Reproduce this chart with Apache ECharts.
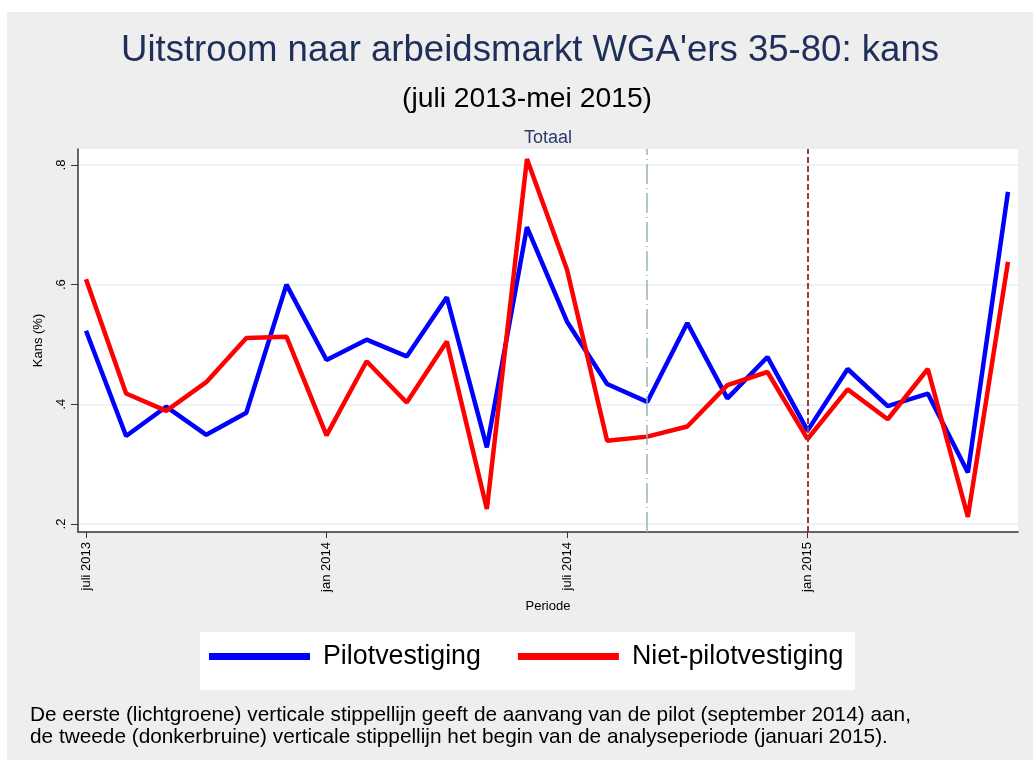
<!DOCTYPE html>
<html>
<head>
<meta charset="utf-8">
<script src="https://cdn.jsdelivr.net/npm/echarts@6/dist/echarts.min.js"></script>
<style>
  html, body { margin: 0; padding: 0; background: #fff; }
  #chart { width: 1033px; height: 760px; }
</style>
</head>
<body>
<div id="chart"></div>
<script>
// maanden juli 2013 - juni 2015
const periodes = [
  'juli 2013', 'aug 2013', 'sep 2013', 'okt 2013', 'nov 2013', 'dec 2013',
  'jan 2014', 'feb 2014', 'mrt 2014', 'apr 2014', 'mei 2014', 'juni 2014',
  'juli 2014', 'aug 2014', 'sep 2014', 'okt 2014', 'nov 2014', 'dec 2014',
  'jan 2015', 'feb 2015', 'mrt 2015', 'apr 2015', 'mei 2015', 'juni 2015'
];
const pilot = [
  0.523, 0.347, 0.396, 0.349, 0.386, 0.600, 0.474, 0.508, 0.480, 0.579, 0.328, 0.696,
  0.538, 0.434, 0.404, 0.536, 0.410, 0.479, 0.356, 0.459, 0.397, 0.418, 0.286, 0.755
];
const nietPilot = [
  0.609, 0.418, 0.389, 0.437, 0.511, 0.513, 0.348, 0.472, 0.403, 0.505, 0.225, 0.810,
  0.625, 0.339, 0.346, 0.363, 0.432, 0.454, 0.342, 0.425, 0.375, 0.459, 0.212, 0.638
];
const xTicks = [0, 6, 12, 18];
const yTicks = [0.2, 0.4, 0.6, 0.8];
const startPilot = 14;    // september 2014
const startAnalyse = 18;  // januari 2015

const FONT = '"Liberation Sans", Arial, sans-serif';
const chart = echarts.init(document.getElementById('chart'));

chart.setOption({
  backgroundColor: '#fff',
  animation: false,
  textStyle: { fontFamily: FONT },
  graphic: [
    { type: 'rect', z: -10, shape: { x: 7, y: 12, width: 1026, height: 748 }, style: { fill: '#EEEEEE' } },
    { type: 'rect', z: -5, shape: { x: 200, y: 632, width: 655, height: 58 }, style: { fill: '#fff' } },
    { type: 'text', x: 530, y: 51, style: { text: "Uitstroom naar arbeidsmarkt WGA'ers 35-80: kans", font: '36.6px ' + FONT, fill: '#1F2F5A', align: 'center', verticalAlign: 'middle' } },
    { type: 'text', x: 527, y: 99, style: { text: '(juli 2013-mei 2015)', font: '28.3px ' + FONT, fill: '#000', align: 'center', verticalAlign: 'middle' } },
    { type: 'text', x: 548, y: 138, style: { text: 'Totaal', font: '18px ' + FONT, fill: '#2A3A6A', align: 'center', verticalAlign: 'middle' } },
    { type: 'text', x: 30, y: 715, style: { text: 'De eerste (lichtgroene) verticale stippellijn geeft de aanvang van de pilot (september 2014) aan,', font: '20.8px ' + FONT, fill: '#000', verticalAlign: 'middle' } },
    { type: 'text', x: 30, y: 737, style: { text: 'de tweede (donkerbruine) verticale stippellijn het begin van de analyseperiode (januari 2015).', font: '20.8px ' + FONT, fill: '#000', verticalAlign: 'middle' } }
  ],
  legend: {
    left: 209,
    top: 643,
    padding: 0,
    itemWidth: 101,
    itemHeight: 7,
    itemGap: 37,
    icon: 'rect',
    textStyle: { fontSize: 26.8, color: '#000', padding: [0, 0, 0, 8] },
    data: ['Pilotvestiging', 'Niet-pilotvestiging']
  },
  grid: {
    left: 78, right: 15, top: 149, bottom: 228,
    show: true, backgroundColor: '#fff', borderWidth: 0
  },
  xAxis: {
    type: 'value',
    min: -0.2,
    max: 23.25,
    name: 'Periode',
    nameLocation: 'middle',
    nameGap: 68,
    nameTextStyle: { fontSize: 13, color: '#000' },
    axisLine: { show: true, onZero: false, lineStyle: { color: '#333', width: 1.5 } },
    axisTick: { show: true, length: 6, customValues: xTicks, lineStyle: { color: '#333' } },
    axisLabel: {
      customValues: xTicks,
      rotate: 90,
      margin: 10,
      fontSize: 13,
      color: '#000',
      formatter: (v) => periodes[v]
    },
    splitLine: { show: false }
  },
  yAxis: {
    type: 'value',
    min: 0.1866,
    max: 0.8267,
    name: 'Kans (%)',
    nameLocation: 'middle',
    nameRotate: 90,
    nameGap: 33,
    nameTextStyle: { fontSize: 13, color: '#000' },
    axisLine: { show: true, onZero: false, lineStyle: { color: '#333', width: 1.5 } },
    axisTick: { show: true, length: 7, customValues: yTicks, lineStyle: { color: '#333' } },
    axisLabel: {
      customValues: yTicks,
      rotate: 90,
      margin: 10,
      fontSize: 13,
      color: '#000',
      formatter: (v) => String(Math.round(v * 10) / 10).replace(/^0/, '')
    },
    splitLine: { show: true, lineStyle: { color: '#E6EFF1', width: 1.5 } }
  },
  series: [
    {
      name: 'Pilotvestiging',
      type: 'line',
      data: pilot.map((v, i) => [i, v]),
      symbol: 'none',
      color: '#0000FF',
      lineStyle: { color: '#0000FF', width: 4.5 },
      markLine: {
        silent: true,
        symbol: 'none',
        label: { show: false },
        data: [
          { xAxis: startPilot, lineStyle: { color: '#97B6AD', width: 1.5, type: [20, 4, 1, 4] } },
          { xAxis: startAnalyse, lineStyle: { color: '#973B3B', width: 2, type: [6, 3] } }
        ]
      }
    },
    {
      name: 'Niet-pilotvestiging',
      type: 'line',
      data: nietPilot.map((v, i) => [i, v]),
      symbol: 'none',
      color: '#FF0000',
      lineStyle: { color: '#FF0000', width: 4.5 }
    }
  ]
});
</script>
</body>
</html>
